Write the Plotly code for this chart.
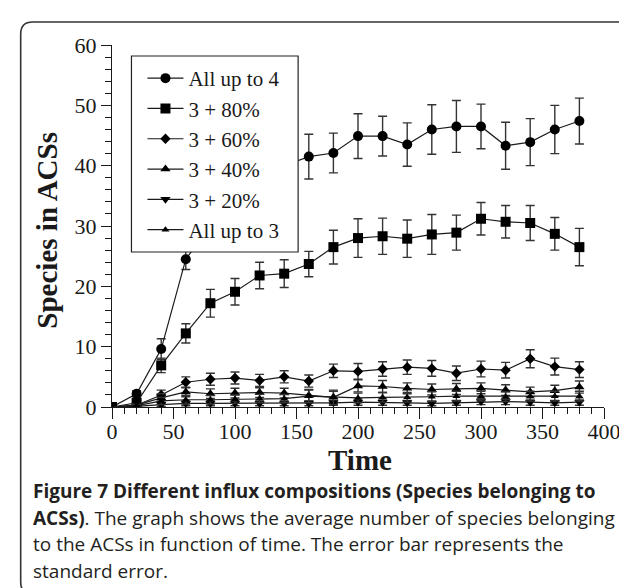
import plotly.graph_objects as go

# ---------------- data ----------------
time = [0, 20, 40, 60, 80, 100, 120, 140, 160, 180, 200, 220, 240, 260, 280, 300, 320, 340, 360, 380]

all4 = [0, 2.2, 9.6, 24.5, 30.0, 34.0, 37.5, 40.0, 41.5, 42.1, 44.9, 44.9, 43.5, 46.0, 46.5, 46.5, 43.3, 43.9, 46.0, 47.4]
all4_err = [0, 0.5, 1.7, 1.7, 2.5, 2.8, 3.0, 3.3, 3.7, 3.3, 3.7, 3.3, 3.6, 4.1, 4.3, 3.7, 3.9, 3.9, 4.0, 3.8]

p80 = [0, 0.7, 6.9, 12.2, 17.2, 19.1, 21.8, 22.1, 23.7, 26.5, 28.0, 28.3, 27.9, 28.6, 28.9, 31.2, 30.7, 30.5, 28.7, 26.5]
p80_err = [0, 0.3, 1.2, 1.6, 2.3, 2.2, 2.2, 2.3, 2.1, 2.8, 3.2, 3.0, 3.1, 3.3, 2.9, 2.7, 2.7, 2.9, 2.7, 3.1]

p60 = [0, 0.3, 2.0, 4.1, 4.6, 4.8, 4.4, 5.0, 4.3, 6.0, 5.9, 6.3, 6.6, 6.4, 5.6, 6.3, 6.1, 8.0, 6.7, 6.2]
p60_err = [0, 0.2, 0.8, 0.9, 1.0, 1.0, 1.0, 1.0, 1.0, 1.1, 1.3, 1.2, 1.2, 1.3, 1.2, 1.3, 1.3, 1.5, 1.4, 1.3]

p40 = [0, 0.3, 1.5, 2.5, 2.2, 2.3, 2.4, 2.3, 1.9, 1.6, 3.5, 3.4, 3.1, 2.9, 3.0, 3.1, 2.8, 2.5, 2.7, 3.3]
p40_err = [0, 0.2, 0.7, 0.8, 0.8, 0.8, 0.8, 0.8, 0.9, 1.0, 1.0, 1.0, 0.9, 0.9, 0.9, 0.9, 0.9, 0.8, 0.9, 1.0]

p20 = [0, 0.1, 0.4, 0.6, 0.6, 0.6, 0.6, 0.6, 0.6, 0.7, 0.8, 0.8, 0.7, 0.6, 0.7, 0.9, 0.9, 0.8, 0.7, 0.8]
p20_err = [0, 0.1, 0.3, 0.4, 0.4, 0.4, 0.4, 0.4, 0.4, 0.4, 0.5, 0.5, 0.4, 0.4, 0.4, 0.5, 0.5, 0.5, 0.4, 0.5]

all3 = [0, 0.2, 1.0, 1.2, 1.2, 1.3, 1.4, 1.4, 1.8, 1.6, 1.5, 1.6, 1.6, 1.7, 1.8, 1.8, 1.7, 1.8, 1.8, 1.8]
all3_err = [0, 0.2, 0.6, 0.7, 0.7, 0.7, 0.7, 0.7, 1.1, 1.2, 0.8, 0.8, 0.8, 0.8, 0.8, 0.8, 0.8, 0.8, 0.8, 0.8]

series_names = ["All up to 4", "3 + 80%", "3 + 60%", "3 + 40%", "3 + 20%", "All up to 3"]
x_ticks = [0, 50, 100, 150, 200, 250, 300, 350, 400]
y_ticks = [0, 10, 20, 30, 40, 50, 60]
x_title = "Time"
y_title = "Species in ACSs"

caption_lines = [
    "<b>Figure 7 Different influx compositions (Species belonging to</b>",
    "<b>ACSs)</b>. The graph shows the average number of species belonging",
    "to the ACSs in function of time. The error bar represents the",
    "standard error.",
]

# ---------------- layout geometry ----------------
W, H = 627, 588
L, R, T, B = 103.5, 30.5, 37, 189
PW, PH = W - L - R, H - T - B


def px(x):
    return (x - L) / PW


def py(y):
    return (H - B - y) / PH


SERIF = "Liberation Serif, Times New Roman, serif"
INK = "#1a1a1a"

fig = go.Figure()

styles = [
    (all4, all4_err, "circle", 10),
    (p80, p80_err, "square", 10),
    (p60, p60_err, "diamond", 8),
    (p40, p40_err, "triangle-up", 9),
    (p20, p20_err, "triangle-down", 9),
    (all3, all3_err, "triangle-up", 7),
]

for name, (vals, errs, sym, sz) in zip(series_names, styles):
    fig.add_trace(go.Scatter(
        x=time, y=vals, name=name, mode="lines+markers",
        line=dict(color=INK, width=1.2),
        marker=dict(symbol=sym, size=sz, color="black"),
        error_y=dict(type="data", array=errs, visible=True, color="#333333", thickness=1.4, width=4.5),
    ))

# rounded frame around the whole figure
x0, x1 = px(12), px(640)
y0, y1 = py(14), py(586)
rx, ry = 12 / PW, 12 / PH
path = (f"M {x0 + rx},{y0} L {x1 - rx},{y0} Q {x1},{y0} {x1},{y0 - ry} "
        f"L {x1},{y1 + ry} Q {x1},{y1} {x1 - rx},{y1} L {x0 + rx},{y1} "
        f"Q {x0},{y1} {x0},{y1 + ry} L {x0},{y0 - ry} Q {x0},{y0} {x0 + rx},{y0} Z")
fig.add_shape(type="path", path=path, xref="paper", yref="paper",
              line=dict(color="#333333", width=1.6), fillcolor="rgba(0,0,0,0)", layer="below")

# legend box (white, covers the curves beneath it)
fig.add_shape(type="rect", xref="paper", yref="paper",
              x0=px(123), x1=px(290), y0=py(48), y1=py(244),
              line=dict(color="#222222", width=1.2), fillcolor="white", layer="above")

caption_y = [483, 510, 536, 563]
for txt, yy in zip(caption_lines, caption_y):
    fig.add_annotation(text=txt, xref="paper", yref="paper", x=px(22), y=py(yy),
                       xanchor="left", yanchor="middle", showarrow=False,
                       font=dict(family="Open Sans, Noto Sans, sans-serif", size=19, color="#231f20"))

# axis titles
fig.add_annotation(text=f"<b>{x_title}</b>", xref="paper", yref="paper", x=px(352), y=py(452),
                   xanchor="center", yanchor="middle", showarrow=False,
                   font=dict(family=SERIF, size=29, color=INK))
fig.add_annotation(text=f"<b>{y_title}</b>", xref="paper", yref="paper", x=px(38), y=py(222),
                   xanchor="center", yanchor="middle", showarrow=False, textangle=-90,
                   font=dict(family=SERIF, size=29, color=INK))

fig.update_layout(
    width=W, height=H,
    margin=dict(l=L, r=R, t=T, b=B, autoexpand=False),
    paper_bgcolor="white", plot_bgcolor="white",
    font=dict(family=SERIF, color=INK, size=20),
    showlegend=True,
    legend=dict(x=px(124), y=py(50), xanchor="left", yanchor="top",
                bgcolor="rgba(0,0,0,0)", borderwidth=0,
                font=dict(family=SERIF, size=21, color=INK),
                itemwidth=36, indentation=10, tracegroupgap=0),
)

fig.update_xaxes(
    range=[0, 400], tickvals=x_ticks, ticktext=[str(v) for v in x_ticks],
    showline=True, linecolor=INK, linewidth=1.2, mirror=False,
    ticks="outside", ticklen=11, tickwidth=1.2, tickcolor=INK,
    minor=dict(dtick=10, ticks="outside", ticklen=5.5, tickwidth=1, tickcolor=INK),
    showgrid=False, zeroline=False, ticklabelstandoff=-7,
    tickfont=dict(family=SERIF, size=22, color=INK),
)
fig.update_yaxes(
    range=[0, 60], tickvals=y_ticks, ticktext=[str(v) for v in y_ticks],
    showline=True, linecolor=INK, linewidth=1.2, mirror=False,
    ticks="outside", ticklen=10, tickwidth=1.2, tickcolor=INK,
    minor=dict(dtick=2, ticks="outside", ticklen=5.5, tickwidth=1, tickcolor=INK),
    showgrid=False, zeroline=False,
    tickfont=dict(family=SERIF, size=22, color=INK),
)

fig.write_html("out.html")
